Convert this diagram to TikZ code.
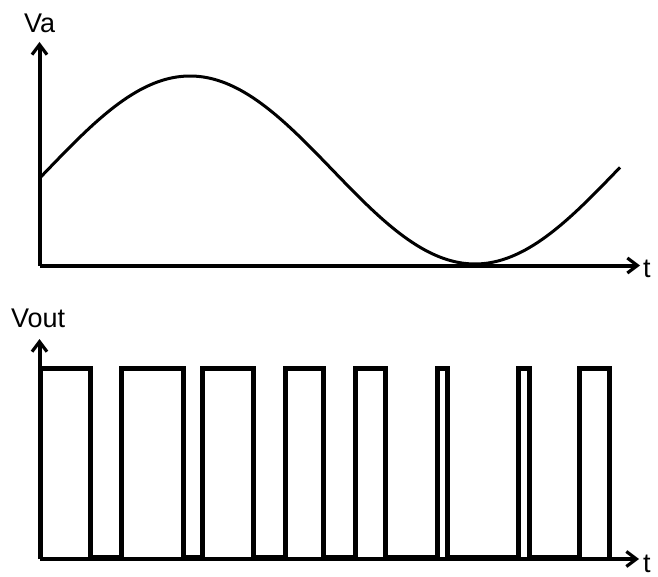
\documentclass[tikz,border=0pt]{standalone}
\usepackage{fontspec}
\setmainfont{Liberation Sans}
\usetikzlibrary{arrows.meta}
\begin{document}
\begin{tikzpicture}[x=1pt,y=-1pt,
  axis/.style={line width=4pt,-{Straight Barb[length=10pt,width=15pt,line width=3.2pt]}},
  wave/.style={line width=3pt,line join=round},
  pulse/.style={line width=5pt,line join=miter},
  lbl/.style={inner sep=0pt,anchor=base west,font=\fontsize{27}{32}\selectfont}]
\useasboundingbox (0,0) rectangle (658,577);
% top graph
\coordinate (o1) at (39.5,265.5);
\coordinate (y1) at (39.5,42);
\coordinate (x1) at (640,265.5);
\draw[axis] (o1) -- (y1);
\draw[axis] (o1) -- (x1);
\draw[wave] plot[domain=39.5:620,samples=120,smooth] (\x,{170-94*cos(0.631579*(\x-190))});
\node[lbl] (va) at (24,33) {Va};
\node[lbl] (t1) at (643,277) {t};
% bottom graph
\coordinate (o2) at (39.5,559);
\coordinate (y2) at (39.5,339);
\coordinate (x2) at (639,559);
\draw[axis] (o2) -- (y2);
\draw[axis] (o2) -- (x2);
\draw[pulse] (40,557) -- (40,368) -- (90,368) -- (90,557)
  -- (121,557) -- (121,368) -- (183,368) -- (183,557)
  -- (202,557) -- (202,368) -- (253,368) -- (253,557)
  -- (285,557) -- (285,368) -- (323,368) -- (323,557)
  -- (355.5,557) -- (355.5,368) -- (385.5,368) -- (385.5,557)
  -- (437,557) -- (437,368) -- (447,368) -- (447,557)
  -- (518,557) -- (518,368) -- (529,368) -- (529,557)
  -- (579.5,557) -- (579.5,368) -- (609.5,368) -- (609.5,557);
\node[lbl] (vout) at (11,327) {Vout};
\node[lbl] (t2) at (643,572) {t};
\end{tikzpicture}
\end{document}
